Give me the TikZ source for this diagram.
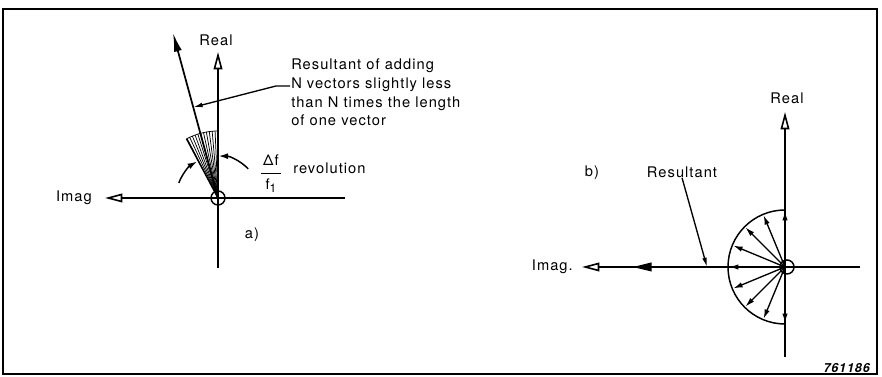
\documentclass[tikz,border=0pt]{standalone}
\usepackage{fontspec}
\setmainfont[LetterSpace=7]{TeX Gyre Heros}
\usetikzlibrary{
  arrows.meta,
  positioning,
  decorations.markings,
  calc,
}
\tikzset{
  axisline/.style={
    line width=1.2pt, -{Triangle[open,length=13pt,width=6.5pt]},
  },
  lbl/.style={
    font=\fontsize{11}{13.9}\selectfont, inner sep=0pt,
  },
  leader/.style={
    line width=1pt, -{Latex[length=7pt,width=3.5pt]},
  },
  spoke/.style={
    line width=1pt, -{Latex[length=7pt,width=4pt]},
  },
  fanline/.style={line width=0.55pt},
  turnarrow/.style={
    line width=1.1pt, -{Latex[length=7pt,width=4.5pt]},
  },
}

\begin{document}
\begin{tikzpicture}[x=0.75pt,y=0.75pt]
\useasboundingbox (0,0) rectangle (882,377);

% Frame
\draw[line width=1.3pt] (3,3) rectangle (877,368);

% ---------- a) ----------
\coordinate (Oa) at (218,179);
\coordinate (aRight) at (345,179);
\coordinate (aLeft) at (105,179);
\coordinate (aBot) at (218,109);
\coordinate (aTop) at (218,325);
\coordinate (resTip) at (173,344);

% Axes
\draw[axisline] (aRight) -- (aLeft);
\draw[axisline] (aBot) -- (aTop);
\draw[line width=1.1pt] (Oa) circle[radius=7];
\node[lbl, left=13 of aLeft] (imagA) {Imag};
\node[lbl] (realA) at (216,337) {Real};

% Fan of vectors
\foreach \a in {90,92.5,...,118.2}
  \draw[fanline] (Oa) -- ++(\a:67);
\draw[fanline] (Oa) ++(90:67) arc[start angle=90, end angle=118, radius=67];
\draw[line width=1.1pt] (Oa) -- ++(118:67);

% Resultant
\draw[line width=1.3pt, -{Latex[length=14pt,width=6pt]}] (Oa) -- (resTip);
\coordinate (hitA) at ($(Oa)!0.55!(resTip)$);

% Rotation arrows
\draw[turnarrow] (Oa) ++(159:42) arc[start angle=159, end angle=120, radius=42];
\draw[turnarrow] (Oa) ++(44:42) arc[start angle=44, end angle=89, radius=42];

% Labels
\node[lbl, align=left, anchor=north west] (callA) at (291,318)
  {Resultant of adding\\N vectors slightly less\\than N times the length\\of one vector};
\coordinate (leadA) at (290,291);
\coordinate (bendA) at (276,291);
\draw[leader] (leadA) -- (bendA) -- (hitA);

\node[lbl] (frac) at (271,204)
  {\renewcommand{\arraystretch}{1.25}%
   \begin{tabular}{@{}c@{}}\,Δf\,\\\hline f\raisebox{-0.45ex}{\fontsize{9}{9}\selectfont 1}\end{tabular}};
\node[lbl, anchor=west] (revol) at (293,209) {revolution};
\node[lbl] (capA) at (252,142) {a)};

% ---------- b) ----------
\coordinate (Ob) at (785,110);
\coordinate (bRight) at (860,110);
\coordinate (bLeft) at (582,110);
\coordinate (bBot) at (785,20);
\coordinate (bTop) at (785,265);
\coordinate (hitB) at (707,110);

% Axes (resultant head on the imaginary axis)
\draw[axisline, postaction={decorate}, decoration={markings,
  mark=at position 0.817 with {\arrow{Triangle[length=14pt,width=6.5pt]}}}]
  (bRight) -- (bLeft);
\draw[axisline] (bBot) -- (bTop);
\node[lbl, left=9 of bLeft] (imagB) {Imag.};
\node[lbl] (realB) at (787,279) {Real};

% Half circle of vectors
\draw[line width=1.1pt] (Ob) ++(90:57) arc[start angle=90, end angle=270, radius=57];
\foreach \a in {90,112.5,...,270}
  \draw[spoke] (Ob) -- ++(\a:56);
\draw[line width=1.1pt] (Ob) ++(2,0) circle[radius=7];

% Labels
\node[lbl] (resB) at (682,205) {Resultant};
\draw[leader] (resB.south) -- (hitB);
\node[lbl] (capB) at (592,204) {b)};

\node[font=\fontsize{9.4}{11}\selectfont\bfseries\itshape, inner sep=0pt, anchor=east]
  (figno) at (870,9) {761186};

\end{tikzpicture}
\end{document}
